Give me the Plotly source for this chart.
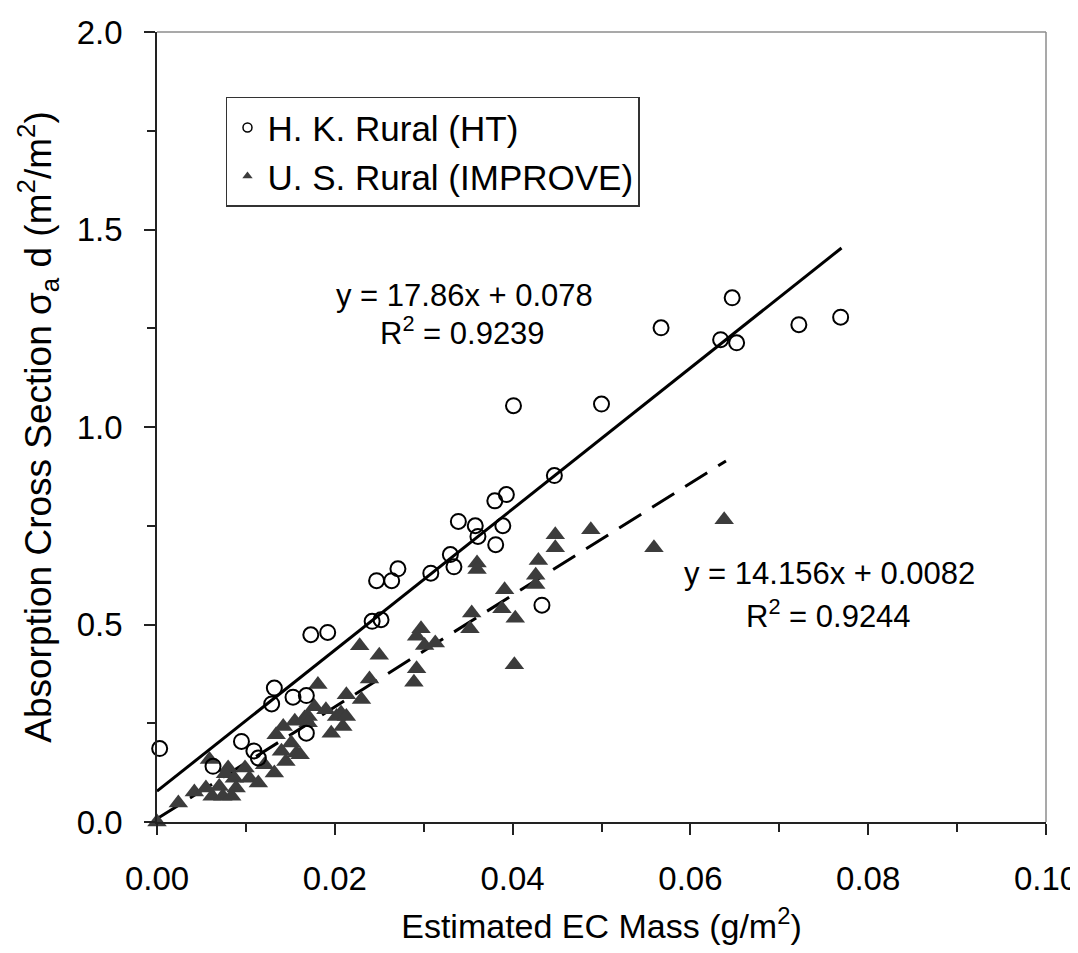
import plotly.graph_objects as go

# H. K. Rural (HT) samples
hk_ec = [0.0003, 0.0063, 0.0095, 0.0109, 0.0114, 0.0168, 0.0129, 0.0132, 0.0153, 0.0168,
         0.0173, 0.0192, 0.0242, 0.0252, 0.0247, 0.0264, 0.0271, 0.0308, 0.0330, 0.0334,
         0.0339, 0.0358, 0.0361, 0.0381, 0.0389, 0.0380, 0.0393, 0.0447, 0.0433, 0.0401,
         0.0500, 0.0647, 0.0567, 0.0634, 0.0652, 0.0722, 0.0769]
hk_abs = [0.186, 0.141, 0.204, 0.180, 0.162, 0.225, 0.299, 0.339, 0.316, 0.320,
          0.474, 0.480, 0.508, 0.512, 0.611, 0.611, 0.641, 0.630, 0.677, 0.646,
          0.761, 0.750, 0.723, 0.702, 0.750, 0.813, 0.829, 0.877, 0.549, 1.054,
          1.058, 1.327, 1.251, 1.221, 1.213, 1.259, 1.278]

# U. S. Rural (IMPROVE) samples
us_ec = [0.0000, 0.0024, 0.0042, 0.0059, 0.0055, 0.0062, 0.0070, 0.0074, 0.0080, 0.0077,
         0.0087, 0.0084, 0.0089, 0.0099, 0.0104, 0.0114, 0.0121, 0.0132, 0.0134, 0.0142,
         0.0140, 0.0145, 0.0155, 0.0151, 0.0157, 0.0166, 0.0161, 0.0170, 0.0170, 0.0177,
         0.0181, 0.0190, 0.0196, 0.0202, 0.0207, 0.0209, 0.0213, 0.0213, 0.0230, 0.0228,
         0.0239, 0.0250, 0.0289, 0.0292, 0.0292, 0.0297, 0.0301, 0.0313, 0.0352, 0.0354,
         0.0360, 0.0360, 0.0388, 0.0391, 0.0402, 0.0403, 0.0426, 0.0426, 0.0429, 0.0448,
         0.0448, 0.0488, 0.0559, 0.0638]
us_abs = [0.000, 0.048, 0.076, 0.158, 0.086, 0.065, 0.090, 0.065, 0.137, 0.122,
          0.111, 0.065, 0.086, 0.137, 0.111, 0.099, 0.145, 0.124, 0.221, 0.242,
          0.179, 0.153, 0.255, 0.200, 0.175, 0.263, 0.170, 0.267, 0.251, 0.292,
          0.348, 0.284, 0.225, 0.267, 0.276, 0.242, 0.267, 0.322, 0.310, 0.446,
          0.362, 0.422, 0.354, 0.388, 0.470, 0.489, 0.447, 0.453, 0.489, 0.529,
          0.656, 0.639, 0.540, 0.588, 0.398, 0.516, 0.601, 0.625, 0.662, 0.727,
          0.694, 0.740, 0.694, 0.765]

# linear fits shown on the chart (slope, intercept) and the x span they cover
hk_fit = (17.86, 0.078)
us_fit = (14.156, 0.0082)
hk_fit_x = [0.0, 0.077]
us_fit_x = [0.0, 0.064]

FONT = "Arial, Liberation Sans, sans-serif"
TRI_COLOR = "#3c3c3c"

fig = go.Figure()

# trend lines
fig.add_trace(go.Scatter(
    x=hk_fit_x, y=[hk_fit[0] * v + hk_fit[1] for v in hk_fit_x],
    mode="lines", line=dict(color="black", width=3),
    showlegend=False, hoverinfo="skip"))
fig.add_trace(go.Scatter(
    x=us_fit_x, y=[us_fit[0] * v + us_fit[1] for v in us_fit_x],
    mode="lines", line=dict(color="black", width=3, dash="26px,13px"),
    showlegend=False, hoverinfo="skip"))

# data points
fig.add_trace(go.Scatter(
    x=us_ec, y=us_abs, mode="markers", cliponaxis=False,
    marker=dict(symbol="triangle-up", size=17, color=TRI_COLOR, line=dict(width=0)),
    showlegend=False))
fig.add_trace(go.Scatter(
    x=hk_ec, y=hk_abs, mode="markers", cliponaxis=False,
    marker=dict(symbol="circle-open", size=15, color="black", line=dict(width=2)),
    showlegend=False))

# legend entries with smaller symbols
fig.add_trace(go.Scatter(
    x=[None], y=[None], mode="markers", name="H. K. Rural (HT)",
    marker=dict(symbol="circle-open", size=9, color="black", line=dict(width=1.5))))
fig.add_trace(go.Scatter(
    x=[None], y=[None], mode="markers", name="U. S. Rural (IMPROVE)",
    marker=dict(symbol="triangle-up", size=9, color=TRI_COLOR)))

# fit equations
fig.add_annotation(x=0.0346, y=1.332, text="y = 17.86x + 0.078", showarrow=False)
fig.add_annotation(x=0.0344, y=1.243, text="R<sup>2</sup> = 0.9239", showarrow=False)
fig.add_annotation(x=0.0756, y=0.630, text="y = 14.156x + 0.0082", showarrow=False)
fig.add_annotation(x=0.0755, y=0.527, text="R<sup>2</sup> = 0.9244", showarrow=False)

# top and right frame lines are lighter than the axes
fig.add_shape(type="line", xref="paper", yref="paper", x0=0, x1=1, y0=1, y1=1,
              line=dict(color="#8c8c8c", width=1.5))
fig.add_shape(type="line", xref="paper", yref="paper", x0=1, x1=1, y0=0, y1=1,
              line=dict(color="#8c8c8c", width=1.5))

fig.update_xaxes(
    range=[0, 0.1], dtick=0.02, tickformat=".2f",
    showgrid=False, zeroline=False,
    showline=True, linecolor="#222", linewidth=1.5,
    ticks="outside", ticklen=11, tickwidth=1.5, tickcolor="#222",
    minor=dict(dtick=0.01, ticks="outside", ticklen=8, tickwidth=1.5, tickcolor="#222"),
    ticklabelstandoff=16,
    tickfont=dict(size=33, color="black"),
    title=dict(text="Estimated EC Mass (g/m<sup>2</sup>)", font=dict(size=34, color="black"), standoff=18),
)
fig.update_yaxes(
    range=[0, 2.0], dtick=0.5, tickformat=".1f",
    showgrid=False, zeroline=False,
    showline=True, linecolor="#222", linewidth=1.5,
    ticks="outside", ticklen=11, tickwidth=1.5, tickcolor="#222",
    minor=dict(dtick=0.25, ticks="outside", ticklen=8, tickwidth=1.5, tickcolor="#222"),
    ticklabelstandoff=15,
    tickfont=dict(size=33, color="black"),
    title=dict(text="Absorption Cross Section σ<sub>a</sub> d (m<sup>2</sup>/m<sup>2</sup>)",
               font=dict(size=37, color="black"), standoff=14),
)

fig.update_layout(
    width=1078, height=953,
    margin=dict(l=149, r=40, t=24, b=139, autoexpand=False),
    paper_bgcolor="white", plot_bgcolor="white",
    font=dict(family=FONT, size=31, color="black"),
    legend=dict(x=0.0776, y=0.918, xanchor="left", yanchor="top",
                bgcolor="white", bordercolor="#333", borderwidth=1.5,
                font=dict(size=35), itemwidth=30, tracegroupgap=0),
)

fig.write_html("out.html")
